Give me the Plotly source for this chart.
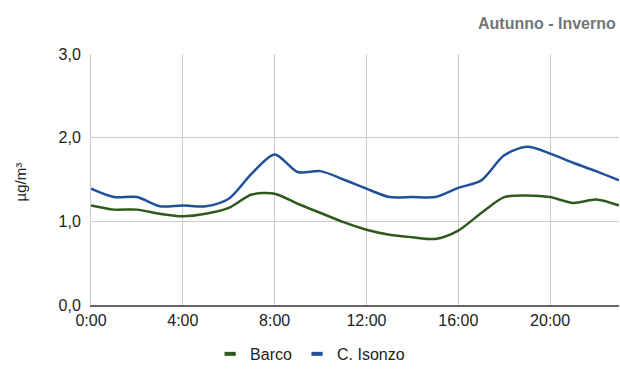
import plotly.graph_objects as go

hours = list(range(24))
barco = [1.19, 1.14, 1.14, 1.09, 1.06, 1.09, 1.16, 1.32, 1.33, 1.21, 1.10, 0.99,
         0.90, 0.84, 0.81, 0.79, 0.89, 1.10, 1.29, 1.31, 1.29, 1.22, 1.26, 1.19]
isonzo = [1.39, 1.29, 1.29, 1.18, 1.19, 1.18, 1.27, 1.57, 1.80, 1.59, 1.60, 1.50,
          1.39, 1.29, 1.29, 1.29, 1.40, 1.49, 1.79, 1.89, 1.81, 1.70, 1.60, 1.49]
x_tickvals = [0, 4, 8, 12, 16, 20]
x_ticktext = ["0:00", "4:00", "8:00", "12:00", "16:00", "20:00"]
y_tickvals = [0, 1, 2, 3]
series_names = ["Barco", "C. Isonzo"]
colors = ["#2f5a1c", "#21509b"]

fig = go.Figure()
for name, vals, c in zip(series_names, [barco, isonzo], colors):
    fig.add_trace(go.Scatter(x=hours, y=vals, mode="lines", name=name,
                             line=dict(color=c, width=2.5, shape="spline", smoothing=0.8),
                             showlegend=False, hoverinfo="skip"))
for name, c in zip(series_names, colors):
    fig.add_trace(go.Scatter(x=[None], y=[None], mode="markers", name=name,
                             marker=dict(symbol="line-ew", size=8, line=dict(color=c, width=4))))

fig.update_layout(
    width=620, height=372,
    margin=dict(l=91, r=1, t=54, b=64),
    paper_bgcolor="white", plot_bgcolor="white",
    separators=", ",
    font=dict(family="Liberation Sans, Arial, sans-serif", color="#222222"),
    showlegend=True,
    legend=dict(orientation="h", x=0.415, xanchor="center", y=-0.195, yanchor="middle",
                font=dict(size=16, color="#222222"), itemwidth=30,
                bgcolor="rgba(0,0,0,0)"),
    annotations=[
        dict(text="<b>Autunno - Inverno</b>", xref="paper", yref="paper",
             x=1.0, xanchor="right", xshift=-1, y=1.0, yanchor="middle", yshift=31,
             showarrow=False, font=dict(size=16, color="#757575")),
        dict(text="µg/m³", xref="paper", yref="paper", x=0, xanchor="center",
             xshift=-71, y=0.5, yanchor="middle", yshift=-3, textangle=-90,
             showarrow=False, font=dict(size=15, color="#222222")),
    ],
)
fig.update_xaxes(range=[0, 23], tickvals=x_tickvals, ticktext=x_ticktext,
                 showgrid=True, gridcolor="#cccccc", gridwidth=1,
                 showline=True, linecolor="#666666", linewidth=1.5,
                 zeroline=False, ticks="", tickfont=dict(size=16, color="#222222"))
fig.update_yaxes(range=[0, 3], tickvals=y_tickvals, tickformat=".1f",
                 showgrid=True, gridcolor="#cccccc", gridwidth=1,
                 zeroline=False, ticks="", showline=True, linecolor="#cccccc",
                 ticklabelstandoff=6,
                 tickfont=dict(size=16, color="#222222"))
fig.write_html(
    "out.html",
    config={"displayModeBar": False},
    post_script="document.body.style.margin='0';document.documentElement.style.overflow='hidden';",
)
